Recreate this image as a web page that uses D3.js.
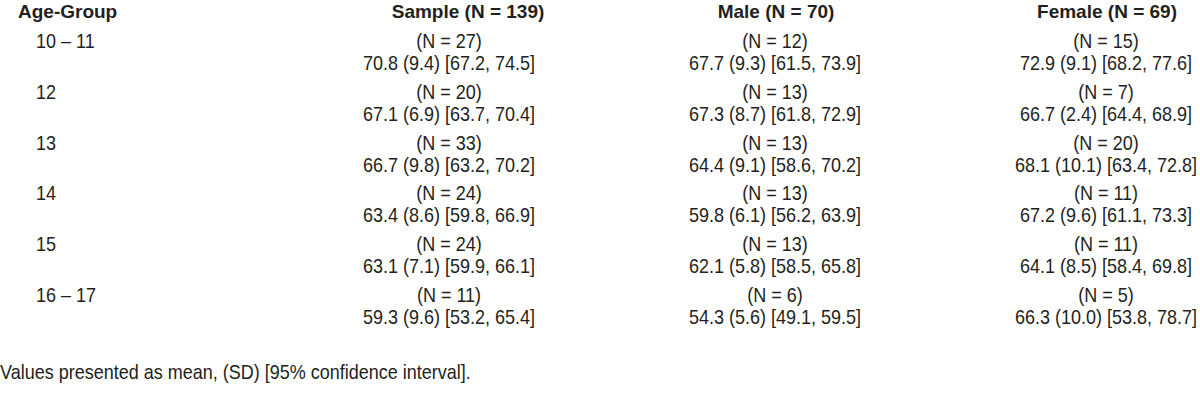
<!DOCTYPE html>
<html>
<head>
<meta charset="utf-8">
<script src="https://cdn.jsdelivr.net/npm/d3@7"></script>
<style>
  html, body { margin: 0; padding: 0; background: #fff; }
  svg { display: block; }
  text { font-family: "Liberation Sans", Arial, sans-serif; fill: #231f20; }
</style>
</head>
<body>
<div id="chart"></div>
<script>
// table contents
const ageGroups = ["10 – 11", "12", "13", "14", "15", "16 – 17"];
const columnTitles = ["Sample (N = 139)", "Male (N = 70)", "Female (N = 69)"];

const sampleN    = [27, 20, 33, 24, 24, 11];
const sampleMean = [70.8, 67.1, 66.7, 63.4, 63.1, 59.3];
const sampleSD   = [9.4, 6.9, 9.8, 8.6, 7.1, 9.6];
const sampleLo   = [67.2, 63.7, 63.2, 59.8, 59.9, 53.2];
const sampleHi   = [74.5, 70.4, 70.2, 66.9, 66.1, 65.4];

const maleN    = [12, 13, 13, 13, 13, 6];
const maleMean = [67.7, 67.3, 64.4, 59.8, 62.1, 54.3];
const maleSD   = [9.3, 8.7, 9.1, 6.1, 5.8, 5.6];
const maleLo   = [61.5, 61.8, 58.6, 56.2, 58.5, 49.1];
const maleHi   = [73.9, 72.9, 70.2, 63.9, 65.8, 59.5];

const femaleN    = [15, 7, 20, 11, 11, 5];
const femaleMean = [72.9, 66.7, 68.1, 67.2, 64.1, 66.3];
const femaleSD   = [9.1, 2.4, 10.1, 9.6, 8.5, 10.0];
const femaleLo   = [68.2, 64.4, 63.4, 61.1, 58.4, 53.8];
const femaleHi   = [77.6, 68.9, 72.8, 73.3, 69.8, 78.7];

const footnote = "Values presented as mean, (SD) [95% confidence interval].";

const columns = [
  { n: sampleN, mean: sampleMean, sd: sampleSD, lo: sampleLo, hi: sampleHi },
  { n: maleN, mean: maleMean, sd: maleSD, lo: maleLo, hi: maleHi },
  { n: femaleN, mean: femaleMean, sd: femaleSD, lo: femaleLo, hi: femaleHi }
];

const width = 1200, height = 408;
const squeeze = 0.9;   // the source font is a condensed grotesque
const f1 = d3.format(".1f");

const svg = d3.select("#chart").append("svg")
  .attr("width", width)
  .attr("height", height);

// row baselines of the "(N = x)" line
const y = d3.scalePoint()
  .domain(ageGroups)
  .range([48, 302]);

// column centres: data lines and header lines sit slightly apart
const xData = d3.scaleOrdinal().domain(columnTitles).range([449, 775, 1106]);
const xHead = d3.scaleOrdinal().domain(columnTitles).range([468, 776, 1107]);

function put(sel, x, yy, txt, anchor, sx) {
  return sel.append("text")
    .attr("transform", `translate(${x},${yy}) scale(${sx},1)`)
    .attr("text-anchor", anchor)
    .text(txt);
}

// header
const head = svg.append("g").style("font-size", "19px").style("font-weight", "bold");
put(head, 18, 18, "Age-Group", "start", 1);
columnTitles.forEach(t => put(head, xHead(t), 18, t, "middle", 1));

// body
const body = svg.append("g").style("font-size", "20px");
ageGroups.forEach((g, i) => {
  const yy = y(g);
  put(body, 36, yy, g, "start", squeeze);
  columns.forEach((c, j) => {
    const cx = xData(columnTitles[j]);
    put(body, cx, yy, `(N = ${c.n[i]})`, "middle", squeeze);
    put(body, cx, yy + 22,
      `${f1(c.mean[i])} (${f1(c.sd[i])}) [${f1(c.lo[i])}, ${f1(c.hi[i])}]`,
      "middle", squeeze);
  });
});

// footnote
put(svg.append("g").style("font-size", "20px"), 0, 379, footnote, "start", squeeze);
</script>
</body>
</html>
